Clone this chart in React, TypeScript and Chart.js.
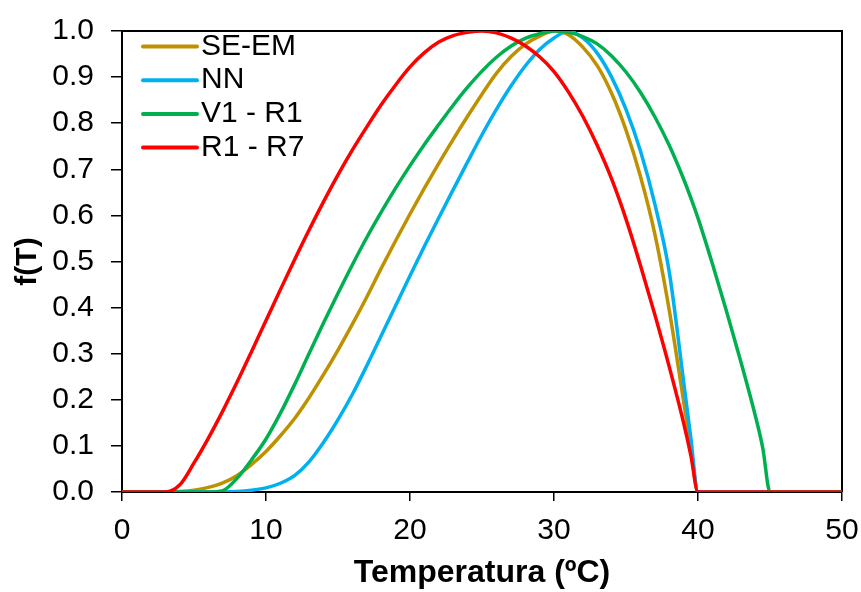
import React, { useEffect, useRef } from "react";
import { Chart, registerables } from "chart.js";

Chart.register(...registerables);

// Temperature (ºC) sample points shared by every series
const TEMPS = [
  0, 1, 2, 3, 4, 5, 6, 7, 8, 9, 10, 11, 12, 13, 14, 15, 16, 17, 18, 19, 20,
  21, 22, 23, 24, 25, 26, 27, 28, 29, 30, 31, 32, 33, 34, 35, 36, 37, 38, 39,
  39.5, 40, 41, 42, 43, 44, 44.5, 45, 46, 47, 48, 49, 50,
];

const SE_EM = [
  0, 0, 0, 0, 0.001, 0.004, 0.01, 0.02, 0.036, 0.06, 0.088, 0.122, 0.16, 0.205,
  0.255, 0.308, 0.364, 0.423, 0.485, 0.545, 0.603, 0.659, 0.713, 0.765, 0.815,
  0.863, 0.908, 0.944, 0.971, 0.989, 1.0, 0.992, 0.965, 0.925, 0.865, 0.785,
  0.685, 0.56, 0.395, 0.197, 0.098, 0, 0, 0, 0, 0, 0, 0, 0, 0, 0, 0, 0,
];

const NN = [
  0, 0, 0, 0, 0, 0, 0, 0, 0.001, 0.004, 0.009, 0.019, 0.036, 0.066, 0.108,
  0.157, 0.212, 0.274, 0.339, 0.404, 0.469, 0.533, 0.595, 0.656, 0.716, 0.775,
  0.83, 0.88, 0.924, 0.96, 0.985, 1.0, 0.985, 0.952, 0.9, 0.83, 0.74, 0.625,
  0.478, 0.24, 0.118, 0, 0, 0, 0, 0, 0, 0, 0, 0, 0, 0, 0,
];

const V1_R1 = [
  0, 0, 0, 0, 0, 0, 0, 0.003, 0.03, 0.07, 0.115, 0.171, 0.234, 0.301, 0.367,
  0.431, 0.493, 0.552, 0.607, 0.659, 0.708, 0.754, 0.797, 0.839, 0.878, 0.913,
  0.943, 0.967, 0.984, 0.994, 1.0, 0.997, 0.988, 0.972, 0.946, 0.911, 0.867,
  0.814, 0.752, 0.679, 0.638, 0.594, 0.495, 0.39, 0.28, 0.163, 0.095, 0, 0, 0,
  0, 0, 0,
];

const R1_R7 = [
  0, 0, 0, 0, 0.015, 0.063, 0.117, 0.176, 0.239, 0.305, 0.372, 0.439, 0.505,
  0.569, 0.63, 0.688, 0.742, 0.792, 0.84, 0.883, 0.922, 0.953, 0.976, 0.99,
  0.997, 1.0, 0.996, 0.985, 0.968, 0.944, 0.912, 0.868, 0.815, 0.752, 0.679,
  0.592, 0.492, 0.385, 0.272, 0.15, 0.08, 0, 0, 0, 0, 0, 0, 0, 0, 0, 0, 0, 0,
];

const SERIES_LABELS = ["SE-EM", "NN", "V1 - R1", "R1 - R7"];
const SERIES_VALUES = [SE_EM, NN, V1_R1, R1_R7];
const SERIES_COLORS = ["#BF9000", "#00B0F0", "#00B050", "#FF0000"];

const X_TITLE = "Temperatura (ºC)";
const Y_TITLE = "f(T)";
const X_MIN = 0;
const X_MAX = 50;
const X_STEP = 10;
const Y_MIN = 0;
const Y_MAX = 1;
const Y_STEP = 0.1;

const FONT = "'Liberation Sans', Arial, Helvetica, sans-serif";

const framePlugin = {
  id: "frame",
  beforeDatasetsDraw(chart: any) {
    const { ctx, chartArea } = chart;
    ctx.save();
    ctx.strokeStyle = "#000";
    ctx.lineWidth = 2;
    ctx.beginPath();
    ctx.moveTo(chartArea.left, chartArea.top);
    ctx.lineTo(chartArea.right, chartArea.top);
    ctx.lineTo(chartArea.right, chartArea.bottom);
    ctx.stroke();
    ctx.restore();
  },
};

const legendPlugin = {
  id: "insideLegend",
  afterDraw(chart: any) {
    const { ctx, chartArea } = chart;
    const x0 = chartArea.left + 21;
    const lineLen = 54;
    const y0 = chartArea.top + 15.5;
    const step = 33.7;
    ctx.save();
    ctx.font = `30px ${FONT}`;
    ctx.textBaseline = "middle";
    ctx.textAlign = "left";
    chart.data.datasets.forEach((ds: any, i: number) => {
      const y = y0 + i * step;
      ctx.strokeStyle = ds.borderColor;
      ctx.lineWidth = 4;
      ctx.lineCap = "round";
      ctx.beginPath();
      ctx.moveTo(x0, y);
      ctx.lineTo(x0 + lineLen, y);
      ctx.stroke();
      ctx.fillStyle = "#000";
      ctx.fillText(ds.label, x0 + lineLen + 4, y);
    });
    ctx.restore();
  },
};

export default function App() {
  const canvasRef = useRef<HTMLCanvasElement | null>(null);

  useEffect(() => {
    const canvas = canvasRef.current;
    if (!canvas) return;
    const datasets = SERIES_LABELS.map((label, i) => ({
      label,
      data: TEMPS.map((t, j) => ({ x: t, y: SERIES_VALUES[i][j] })),
      borderColor: SERIES_COLORS[i],
      backgroundColor: SERIES_COLORS[i],
      borderWidth: 3.5,
      pointRadius: 0,
      fill: false,
      cubicInterpolationMode: "monotone" as const,
      order: SERIES_LABELS.length - i,
    }));

    const chart = new Chart(canvas, {
      type: "line",
      data: { datasets },
      options: {
        animation: false,
        responsive: false,
        maintainAspectRatio: false,
        layout: { padding: { top: 31, right: 19, left: 0, bottom: 0 } },
        plugins: {
          legend: { display: false },
          tooltip: { enabled: false },
        },
        scales: {
          x: {
            type: "linear",
            min: X_MIN,
            max: X_MAX,
            afterFit: (scale: any) => {
              scale.height = 100;
              scale.paddingLeft = 0;
              scale.paddingRight = 0;
            },
            ticks: {
              stepSize: X_STEP,
              color: "#000",
              padding: 12,
              font: { family: FONT, size: 30 },
              maxRotation: 0,
            },
            grid: {
              display: true,
              drawOnChartArea: false,
              drawTicks: true,
              tickLength: 9,
              color: "#000",
              lineWidth: 1.5,
            },
            border: { display: true, color: "#000", width: 2 },
            title: {
              display: true,
              text: X_TITLE,
              color: "#000",
              font: { family: FONT, size: 32, weight: "bold" },
              padding: { top: 0, bottom: 0 },
            },
          },
          y: {
            type: "linear",
            min: Y_MIN,
            max: Y_MAX,
            afterFit: (scale: any) => {
              scale.width = 122;
              scale.paddingTop = 0;
              scale.paddingBottom = 0;
            },
            ticks: {
              stepSize: Y_STEP,
              color: "#000",
              padding: 17,
              font: { family: FONT, size: 30 },
              callback: (v: any) => Number(v).toFixed(1),
            },
            grid: {
              display: true,
              drawOnChartArea: false,
              drawTicks: true,
              tickLength: 11,
              color: "#000",
              lineWidth: 1.5,
            },
            border: { display: true, color: "#000", width: 2 },
            title: {
              display: true,
              text: Y_TITLE,
              color: "#000",
              font: { family: FONT, size: 30, weight: "bold" },
              padding: { top: 10, bottom: 0 },
            },
          },
        },
      },
      plugins: [framePlugin, legendPlugin],
    });

    return () => chart.destroy();
  }, []);

  return (
    <div style={{ position: "fixed", left: 0, top: 0, width: 861, height: 592, background: "#fff" }}>
      <canvas ref={canvasRef} width={861} height={592} style={{ display: "block", width: 861, height: 592 }} />
    </div>
  );
}
